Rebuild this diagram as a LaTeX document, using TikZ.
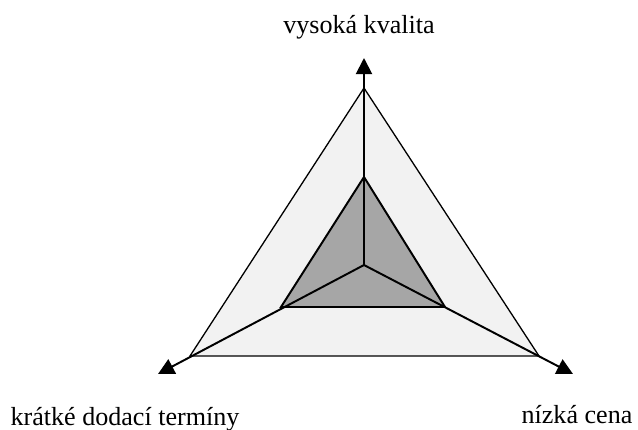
\documentclass[tikz,border=0pt]{standalone}
\usepackage{fontspec}
\setmainfont{Liberation Serif}
\usetikzlibrary{arrows.meta}
\definecolor{outerfill}{RGB}{242,242,242}
\definecolor{innerfill}{RGB}{166,166,166}
\begin{document}
\begin{tikzpicture}[
  x=0.46pt, y=-0.46pt,
  every node/.style={font=\fontsize{12}{14}\selectfont, inner sep=0pt, anchor=base},
  axis/.style={-{Triangle[length=7.4pt, width=7.4pt]}, line width=0.9pt},
]
\useasboundingbox (0,0) rectangle (638,429);

% === Centre and axis ends ===
\coordinate (o) at (364,265);
\coordinate (qtip) at (364,58);
\coordinate (ttip) at (158,374);
\coordinate (ctip) at (573,374);

% === Outer triangle (light) ===
\coordinate (qout) at (364,88);
\coordinate (tout) at (190,356);
\coordinate (cout) at (539,356);
\draw[fill=outerfill, line width=0.6pt] (qout) -- (tout) -- (cout) -- cycle;

% === Inner triangle (dark) ===
\coordinate (qin) at (364,177);
\coordinate (tin) at (281,307);
\coordinate (cin) at (445,307);
\draw[fill=innerfill, line width=0.9pt] (qin) -- (tin) -- (cin) -- cycle;

% === Axes ===
\draw[axis] (o) -- (qtip);
\draw[axis] (o) -- (ttip);
\draw[axis] (o) -- (ctip);

% === Labels ===
\node (quality) at (359,33) {vysoká kvalita};
\node (terms) at (125,425) {krátké dodací termíny};
\node (price) at (577,423) {nízká cena};

\end{tikzpicture}
\end{document}
